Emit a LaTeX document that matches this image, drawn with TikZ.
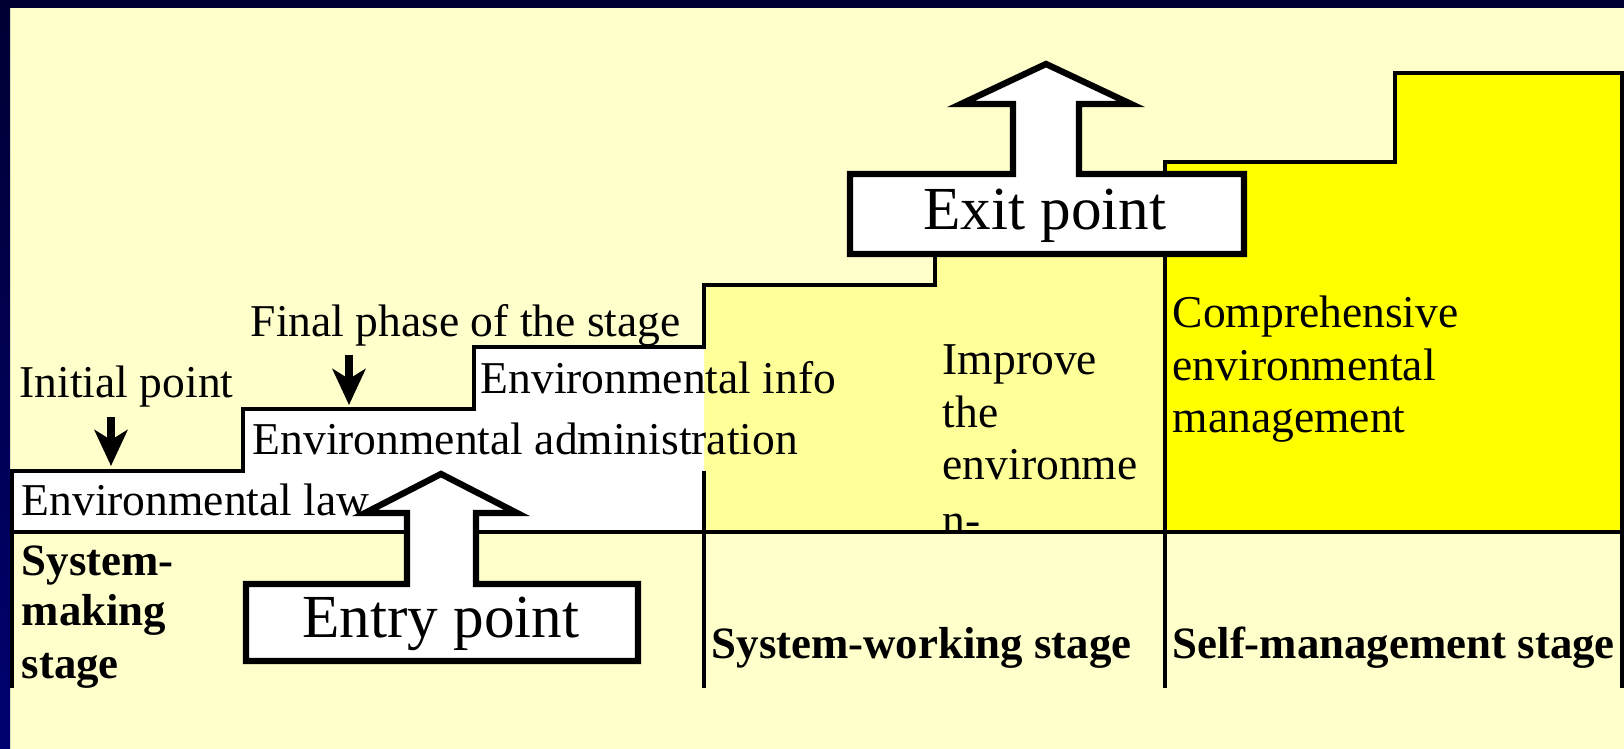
\documentclass[tikz,border=0pt]{standalone}
\usepackage{fontspec}
\setmainfont{Liberation Serif}
\usetikzlibrary{arrows.meta}
\definecolor{bgpale}{HTML}{FFFFCC}
\definecolor{midyel}{HTML}{FFFF99}
\definecolor{brightyel}{HTML}{FFFF00}
\definecolor{navytop}{HTML}{000033}
\definecolor{navybot}{HTML}{000070}
\newcommand\lblfont{\fontsize{12.95}{15}\selectfont}
\newcommand\stagefont{\fontsize{12.75}{15}\selectfont\bfseries}
\newcommand\bigfont{\fontsize{17.4}{20}\selectfont}
\tikzset{
  lbl/.style={font=\lblfont, inner sep=0pt, anchor=base west},
  stagelbl/.style={font=\stagefont, inner sep=0pt, anchor=base west},
  biglbl/.style={font=\bigfont, inner sep=0pt, anchor=base},
  outline/.style={line width=1pt, black},
  yline/.style={line width=1.3pt, black},
  bigarrow/.style={fill=white, draw=black, line width=1.8pt, line join=miter},
  downarrow/.style={line width=2pt, -{Stealth[length=3.6mm,width=3.3mm,inset=1mm]}},
}
\begin{document}
\begin{tikzpicture}[x=0.01cm, y=-0.01cm]
\useasboundingbox (0,0) rectangle (1624,749);
% background and frame
\fill[bgpale] (0,0) rectangle (1624,749);
\shade[top color=navytop, bottom color=navybot] (0,0) rectangle (10,749);
\fill[navytop] (0,0) rectangle (1624,8);
% regions
\fill[brightyel] (1165,532) -- (1165,162) -- (1395,162) -- (1395,73) -- (1622,73) -- (1622,532) -- cycle;
\fill[midyel] (704,532) -- (704,285) -- (935,285) -- (935,240) -- (1165,240) -- (1165,532) -- cycle;
\fill[white] (12,532) -- (12,471) -- (243,471) -- (243,409) -- (474,409) -- (474,347) -- (704,347) -- (704,532) -- cycle;
% lines
\draw[outline] (12,688) -- (12,471) -- (243,471) -- (243,409) -- (474,409) -- (474,347) -- (704,347) -- (704,285) -- (935,285) -- (935,240);
\draw[outline] (704,471) -- (704,688);
\draw[yline] (1165,688) -- (1165,162) -- (1395,162) -- (1395,73) -- (1622,73) -- (1622,688);
\draw[outline] (12,532) -- (1622,532);
% texts
\node[lbl] (init) at (19,398) {Initial point};
\node[lbl] (final) at (250,337) {Final phase of the stage};
\node[lbl] (law) at (21,516) {Environmental law};
\node[lbl] (admin) at (252,455) {Environmental administration};
\node[lbl] (info) at (480,394) {Environmental info};
\begin{scope}
\clip (900,300) rectangle (1160,531);
\node[lbl] (imp1) at (942,375) {Improve};
\node[lbl] (imp2) at (942,427.5) {the};
\node[lbl] (imp3) at (942,480) {environme};
\node[lbl] (imp4) at (942,536) {n-};
\end{scope}
\node[lbl] (comp1) at (1172,328) {Comprehensive};
\node[lbl] (comp2) at (1172,381) {environmental};
\node[lbl] (comp3) at (1172,433) {management};
\node[stagelbl] (st1a) at (21,575) {System-};
\node[stagelbl] (st1b) at (21,626) {making};
\node[stagelbl] (st1c) at (21,678) {stage};
\node[stagelbl] (st2) at (711,659) {System-working stage};
\node[stagelbl] (st3) at (1172,659) {Self-management stage};
% small down arrows
\coordinate (initTop) at (111,417);
\coordinate (initTip) at (111,466);
\coordinate (finTop) at (349,355);
\coordinate (finTip) at (349,405);
\draw[downarrow] (initTop) -- (initTip);
\draw[downarrow] (finTop) -- (finTip);
% exit arrow
\draw[bigarrow] (850,254) -- (850,174) -- (1013,174) -- (1013,104) -- (961,104) -- (1046,64) -- (1131,104) -- (1079,104) -- (1079,174) -- (1244,174) -- (1244,254) -- cycle;
\node[biglbl] (exit) at (1045,230) {Exit point};
% entry arrow
\draw[bigarrow] (246,661) -- (246,584) -- (407,584) -- (407,513) -- (365,513) -- (441,474) -- (517,513) -- (476,513) -- (476,584) -- (638,584) -- (638,661) -- cycle;
\node[biglbl] (entry) at (441,637) {Entry point};
\end{tikzpicture}
\end{document}
